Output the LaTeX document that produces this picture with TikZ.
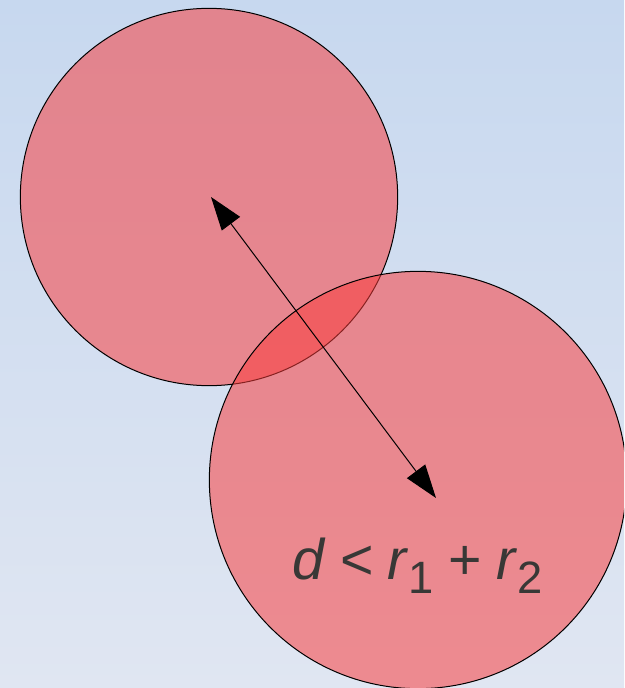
\documentclass[tikz,border=0pt]{standalone}
\usepackage{fontspec}
\setmainfont{Liberation Sans}
\usetikzlibrary{positioning, arrows.meta}
\usepackage{xcolor}

\definecolor{bgtop}{RGB}{199,216,239}
\definecolor{bgbottom}{RGB}{224,230,242}
\definecolor{discred}{RGB}{249,61,61}
\definecolor{labelgray}{RGB}{56,56,54}

\newcommand{\subdigit}[1]{\raisebox{-11pt}{\fontsize{34}{40}\selectfont #1}}

\begin{document}
\begin{tikzpicture}[
  x=0.75pt, y=-0.75pt,
  disc/.style={circle, draw=black, line width=0.75pt, fill=discred,
               fill opacity=0.54, inner sep=0pt, outer sep=0pt},
  distarrow/.style={{Triangle[length=25pt,width=17pt]}-{Triangle[length=25pt,width=17pt]},
                    line width=0.75pt},
  condlabel/.style={text=labelgray, font=\fontsize{43}{50}\selectfont,
                    anchor=base west, inner sep=0pt}
]

% -------- FUNDO --------
\shade[top color=bgtop, bottom color=bgbottom] (0,0) rectangle (624,688);
\useasboundingbox (0,0) rectangle (624,688);

% -------- CIRCULOS --------
\begin{scope}
\clip (0,0) rectangle (624,688);
\node[disc, minimum size=283pt] (c1) at (209,197) {};
\node[disc, minimum size=313pt] (c2) at (418,480) {};
\end{scope}

% -------- DISTANCIA --------
\coordinate (d1) at (211,197);
\coordinate (d2) at (436,498);
\draw[distarrow] (d1) -- (d2);

% -------- CONDICAO --------
\node[condlabel] (cond) at (292,579)
  {\textit{d}\hspace{0.25em}<\hspace{0.25em}\textit{r}\subdigit{1}\hspace{0.25em}+\hspace{0.25em}\textit{r}\subdigit{2}};

\end{tikzpicture}
\end{document}
